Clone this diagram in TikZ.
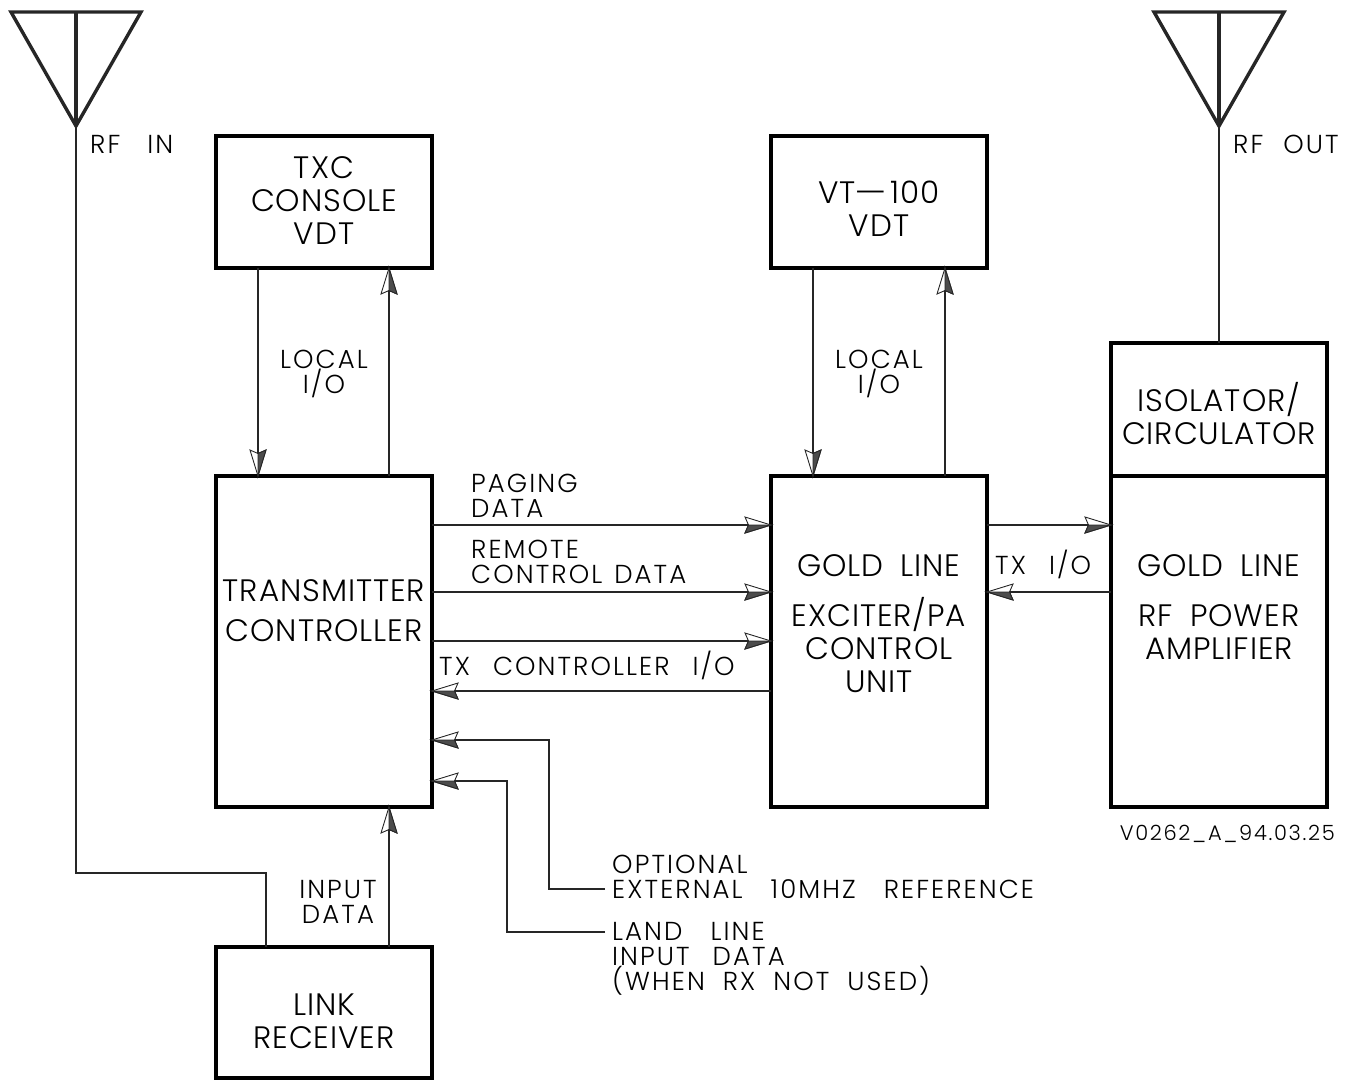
\documentclass[tikz,border=0pt]{standalone}
\usepackage{fontspec}
\usepackage{graphicx}
\usetikzlibrary{calc,arrows.meta}
\newfontfamily\smallf[LetterSpace=8,WordSpace=2.5]{Poppins Light}
\newfontfamily\bigf[LetterSpace=3,WordSpace=1.8]{Poppins Light}
\newcommand{\longhyph}{\scalebox{2.2}[1]{-}}
\pgfdeclarearrow{name=HalfR,
 setup code={\pgfarrowssettipend{0pt}\pgfarrowssetlineend{-18pt}\pgfarrowssetvisualbackend{-26pt}\pgfarrowssetbackend{-26pt}\pgfarrowssavethe{\pgfarrowlength}},
 drawing code={
  \pgfsetlinewidth{0.9pt}\pgfsetmiterjoin
  \pgfpathmoveto{\pgfpoint{0pt}{0pt}}\pgfpathlineto{\pgfpoint{-26pt}{8pt}}\pgfpathlineto{\pgfpoint{-22.5pt}{0pt}}\pgfpathlineto{\pgfpoint{-26pt}{-8pt}}\pgfpathclose
  \pgfsetfillcolor{white}\pgfusepathqfillstroke
  \pgfpathmoveto{\pgfpoint{0pt}{0pt}}\pgfpathlineto{\pgfpoint{-22.5pt}{0pt}}\pgfpathlineto{\pgfpoint{-26pt}{-8pt}}\pgfpathclose
  \pgfsetfillcolor{black!70}\pgfusepathqfillstroke},
 defaults={}}
\pgfdeclarearrow{name=HalfL,
 setup code={\pgfarrowssettipend{0pt}\pgfarrowssetlineend{-18pt}\pgfarrowssetvisualbackend{-26pt}\pgfarrowssetbackend{-26pt}\pgfarrowssavethe{\pgfarrowlength}},
 drawing code={
  \pgfsetlinewidth{0.9pt}\pgfsetmiterjoin
  \pgfpathmoveto{\pgfpoint{0pt}{0pt}}\pgfpathlineto{\pgfpoint{-26pt}{8pt}}\pgfpathlineto{\pgfpoint{-22.5pt}{0pt}}\pgfpathlineto{\pgfpoint{-26pt}{-8pt}}\pgfpathclose
  \pgfsetfillcolor{white}\pgfusepathqfillstroke
  \pgfpathmoveto{\pgfpoint{0pt}{0pt}}\pgfpathlineto{\pgfpoint{-22.5pt}{0pt}}\pgfpathlineto{\pgfpoint{-26pt}{8pt}}\pgfpathclose
  \pgfsetfillcolor{black!70}\pgfusepathqfillstroke},
 defaults={}}
\tikzset{
 box/.style={draw=black,line width=3.4pt,fill=none,rectangle,outer sep=0pt,inner sep=0pt,anchor=north west},
 wire/.style={line width=1.1pt,black!85},
 rtip/.style={wire,-{HalfR}},
 ltip/.style={wire,-{HalfL}},
 ant/.style={line width=3.4pt,line join=miter,black!85},
 biglbl/.style={font=\bigf\fontsize{31}{33}\selectfont,align=center,inner sep=0pt,anchor=center},
 smalllbl/.style={font=\smallf\fontsize{26}{25}\selectfont,align=left,inner sep=0pt,anchor=base west},
}
\begin{document}
\begin{tikzpicture}[x=1pt,y=-1pt]
\useasboundingbox (0,0) rectangle (1351,1080);
% boxes
\node[box,minimum width=216pt,minimum height=132pt] (txc) at (216,136) {};
\node[box,minimum width=216pt,minimum height=132pt] (vt) at (771,136) {};
\node[box,minimum width=216pt,minimum height=331pt] (tc) at (216,476) {};
\node[box,minimum width=216pt,minimum height=331pt] (ex) at (771,476) {};
\node[box,minimum width=216pt,minimum height=133pt] (iso) at (1111,343) {};
\node[box,minimum width=216pt,minimum height=331pt] (pa) at (1111,476) {};
\node[box,minimum width=216pt,minimum height=131pt] (lr) at (216,947) {};
% box texts
\node[biglbl] (t1) at (324,201) {TXC\\CONSOLE\\VDT};
\node[biglbl] (t2) at (879,209) {VT\longhyph 100\\VDT};
\node[biglbl] (t3) at (324,611) {TRANSMITTER\\[7pt]CONTROLLER};
\node[biglbl] (t4a) at (879,566) {GOLD LINE};
\node[biglbl] (t4b) at (879,645) {EXCITER/PA\\CONTROL\\UNIT};
\node[biglbl] (t5) at (1219,414) {ISOLATOR/\\CIRCULATOR};
\node[biglbl] (t6a) at (1219,566) {GOLD LINE};
\node[biglbl] (t6b) at (1219,632) {RF POWER\\AMPLIFIER};
\node[biglbl] (t7) at (324,1021) {LINK\\RECEIVER};
% antennas
\coordinate (a1) at (76,126);
\coordinate (a2) at (1219,126);
\draw[ant] (11,12) -- (141,12) -- (a1) -- cycle;
\draw[ant] (76,12) -- (a1);
\draw[ant] (1154,12) -- (1284,12) -- (a2) -- cycle;
\draw[ant] (1219,12) -- (a2);
\draw[wire] (a2) -- (iso.north -| a2);
\coordinate (rxin) at ($(lr.north west)+(50,0)$);
\coordinate (rxbend) at (a1 |- 0,873);
\draw[wire] (a1) -- (rxbend) -| (rxin);
% vertical connectors
\draw[ltip] ($(txc.south west)+(42,0)$) -- ($(tc.north west)+(42,0)$);
\draw[rtip] ($(tc.north west)+(173,0)$) -- ($(txc.south west)+(173,0)$);
\draw[ltip] ($(vt.south west)+(42,0)$) -- ($(ex.north west)+(42,0)$);
\draw[rtip] ($(ex.north west)+(174,0)$) -- ($(vt.south west)+(174,0)$);
\draw[rtip] ($(lr.north west)+(173,0)$) -- ($(tc.south west)+(173,0)$);
% horizontal connectors
\draw[rtip] ($(tc.north east)+(0,49)$) -- ($(ex.north west)+(0,49)$);
\draw[rtip] ($(tc.north east)+(0,116)$) -- ($(ex.north west)+(0,116)$);
\draw[rtip] ($(tc.north east)+(0,165)$) -- ($(ex.north west)+(0,165)$);
\draw[ltip] ($(ex.north west)+(0,215)$) -- ($(tc.north east)+(0,215)$);
\draw[rtip] ($(ex.north east)+(0,49)$) -- ($(pa.north west)+(0,49)$);
\draw[ltip] ($(pa.north west)+(0,116)$) -- ($(ex.north east)+(0,116)$);
% labels
\node[smalllbl] (l1) at (90,153) {RF\hspace{27pt}IN};
\node[smalllbl] (l2) at (1233,153) {RF\hspace{20pt}OUT};
\node[smalllbl,align=center,anchor=center] (l3) at (324,374) {LOCAL\\I/O};
\node[smalllbl,align=center,anchor=center] (l4) at (879,374) {LOCAL\\I/O};
\node[smalllbl,anchor=west] (l5) at (471,496) {PAGING\\DATA};
\node[smalllbl,anchor=west] (l6) at (471,562) {REMOTE\\CONTROL\hspace{-11pt} DATA};
\node[smalllbl] (l7) at (439,675) {TX CONTROLLER I/O};
\node[smalllbl] (l8) at (995,574) {TX I/O};
\node[smalllbl,align=center,anchor=center] (l9) at (338,902) {INPUT\\DATA};
\node[smalllbl,anchor=west] (l10) at (612,877) {OPTIONAL\\EXTERNAL\hspace{5pt} 10MHZ\hspace{5pt} REFERENCE};
\node[smalllbl,anchor=west] (l11) at (612,959) {LAND\hspace{5pt} LINE\\INPUT DATA\\(WHEN\hspace{-5pt} RX\hspace{-5pt} NOT\hspace{-5pt} USED)};
\node[inner sep=0pt,anchor=base east,font=\smallf\fontsize{21}{21}\selectfont] (l12) at (1335,840) {V0262\_A\_94.03.25};
\coordinate (c1) at (605,889);
\coordinate (c2) at (605,932);
\draw[ltip] (c1) -| (549,740) -- (tc.east |- 0,740);
\draw[ltip] (c2) -| (507,781) -- (tc.east |- 0,781);
\end{tikzpicture}
\end{document}
